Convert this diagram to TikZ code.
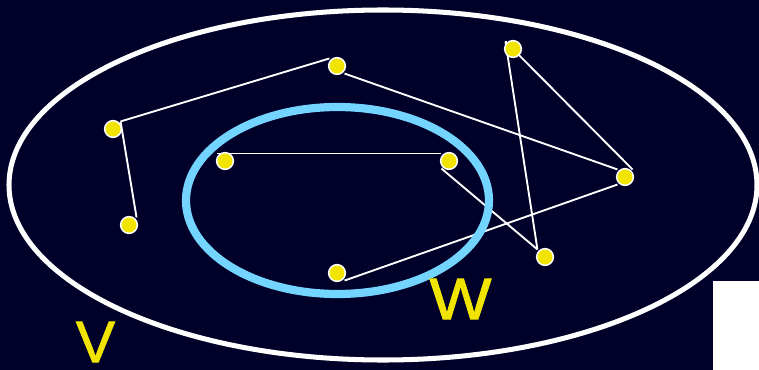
\documentclass[tikz,border=0pt]{standalone}
\usepackage{fontspec}
\setmainfont{Liberation Sans}
\newfontfamily\setfont[FakeBold=1.6]{Liberation Sans}
\usepackage{tikz}
\usetikzlibrary{positioning}
\definecolor{navy}{RGB}{0,0,40}
\definecolor{dotyellow}{RGB}{240,228,0}
\definecolor{skyblue}{RGB}{115,212,255}
\pgfdeclarelayer{back}
\pgfdeclarelayer{edges}
\pgfsetlayers{back,edges,main}

\begin{document}
\begin{tikzpicture}[x=0.03cm, y=-0.03cm,
    vtx/.style={circle, fill=dotyellow, draw=white, line width=1.3pt, minimum size=0.5cm, inner sep=0pt, outer sep=2pt},
    edge/.style={white, line width=1.6pt},
    setlabel/.style={text=dotyellow, font=\setfont\fontsize{50}{50}\selectfont, inner sep=0pt}]

    \begin{pgfonlayer}{back}
    \fill[navy] (0,0) rectangle (759,370);
    \fill[white] (713,281) rectangle (759,370);
    \end{pgfonlayer}
    \useasboundingbox (0,0) rectangle (759,370);

    % the sets
    \draw[white, line width=4.3pt] (383,185) ellipse [x radius=374, y radius=175];
    \draw[skyblue, line width=7pt] (337.5,200.5) ellipse [x radius=151.5, y radius=93.5];

    \node[vtx] (a) at (113,129) {};
    \node[vtx] (b) at (337,66) {};
    \node[vtx] (c) at (129,225) {};
    \node[vtx] (d) at (225,161) {};
    \node[vtx] (e) at (449,161) {};
    \node[vtx] (f) at (513,49) {};
    \node[vtx] (g) at (625,177) {};
    \node[vtx] (h) at (545,257) {};
    \node[vtx] (i) at (337,273) {};

    \begin{pgfonlayer}{edges}
    \draw[edge] (a.north east) -- (b.north west);
    \draw[edge] (a.north east) -- (c.north east);
    \draw[edge] (b.south east) -- (g.north west);
    \draw[edge, line width=1.3pt] (d.north west) -- (e.north west);
    \draw[edge] (e.south west) -- (h.north west);
    \draw[edge] (f.north west) -- (h.north west);
    \draw[edge] (f.north west) -- (g.north east);
    \draw[edge] (i.south east) -- (g.south west);
    \end{pgfonlayer}

    \node[setlabel] (lv) at (95.5,342) {V};
    \node[setlabel, xscale=1.12] (lw) at (460.5,299) {W};
\end{tikzpicture}
\end{document}
